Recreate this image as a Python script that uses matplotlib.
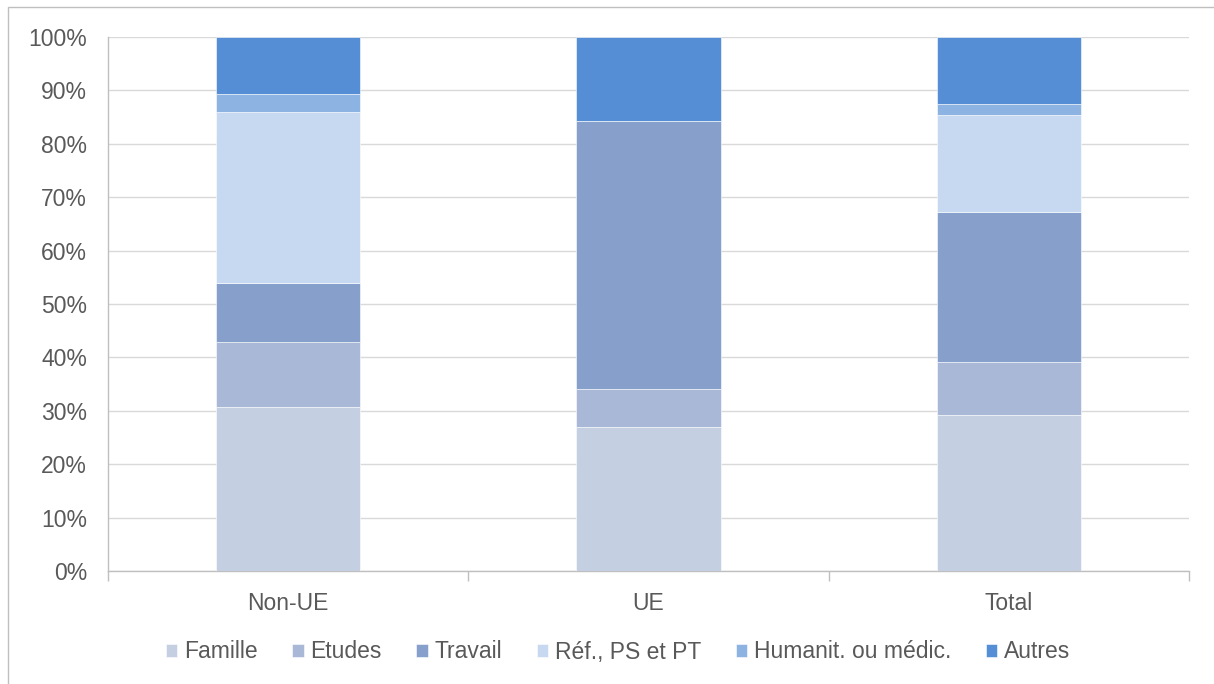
import matplotlib
matplotlib.use("Agg")
import matplotlib.pyplot as plt
from matplotlib.patches import Rectangle
import numpy as np

categories = ["Non-UE", "UE", "Total"]
series_names = ["Famille", "Etudes", "Travail", "Réf., PS et PT", "Humanit. ou médic.", "Autres"]
famille = [30.7, 27.0, 29.2]
etudes = [12.2, 7.1, 9.9]
travail = [11.0, 50.2, 28.1]
refugies = [32.1, 0.0, 18.2]
humanit = [3.3, 0.0, 2.1]
autres = [10.7, 15.7, 12.5]
series_values = [famille, etudes, travail, refugies, humanit, autres]
colors = ["#C5CFE2", "#A9B8D6", "#86A0CB", "#C6D9F0", "#8DB3E2", "#558ED5"]
yticks = [0, 10, 20, 30, 40, 50, 60, 70, 80, 90, 100]
ytick_labels = [f"{v}%" for v in yticks]

plt.rcParams['font.family'] = ['Liberation Sans', 'DejaVu Sans']
text_color = "#595959"
fs = 16.5

fig = plt.figure(figsize=(12.14, 6.84), dpi=100)
W, H = 1214, 684
ax = fig.add_axes([108 / W, 1 - 571 / H, (1189 - 108) / W, (571 - 37) / H])

x = np.arange(len(categories))
bottom = np.zeros(len(categories))
for name, vals, c in zip(series_names, series_values, colors):
    vals = np.array(vals)
    ax.bar(x, vals, width=0.4, bottom=bottom, color=c, label=name, zorder=3,
           edgecolor="white", linewidth=0.4)
    bottom += vals

ax.set_xlim(-0.5, len(categories) - 0.5)
ax.set_ylim(0, 100)
ax.set_yticks(yticks)
ax.set_yticklabels(ytick_labels, color=text_color, fontsize=fs)
ax.yaxis.grid(True, color="#D9D9D9", linewidth=1, zorder=0)
ax.tick_params(axis='y', length=0, pad=15)

ax.set_xticks(x)
ax.set_xticklabels(categories, color=text_color, fontsize=fs)
ax.tick_params(axis='x', length=0, pad=15)
ax.set_xticks(np.arange(len(categories) + 1) - 0.5, minor=True)
ax.tick_params(axis='x', which='minor', length=7, color="#BFBFBF", width=1)

for s in ["top", "right"]:
    ax.spines[s].set_visible(False)
for s in ["left", "bottom"]:
    ax.spines[s].set_color("#BFBFBF")
    ax.spines[s].set_linewidth(1)

leg = fig.legend(loc="center", bbox_to_anchor=(618 / W, 1 - 652 / H), ncol=6, frameon=False,
                 fontsize=fs, handlelength=0.5, handleheight=0.5, handletextpad=0.3,
                 columnspacing=1.5)
for t in leg.get_texts():
    t.set_color(text_color)

fig.patches.append(Rectangle((8 / W, -0.01), 1.2, 1 - 7 / H + 0.01, transform=fig.transFigure,
                             fill=False, edgecolor="#BFBFBF", linewidth=1))

fig.savefig("out.png", dpi=100)
